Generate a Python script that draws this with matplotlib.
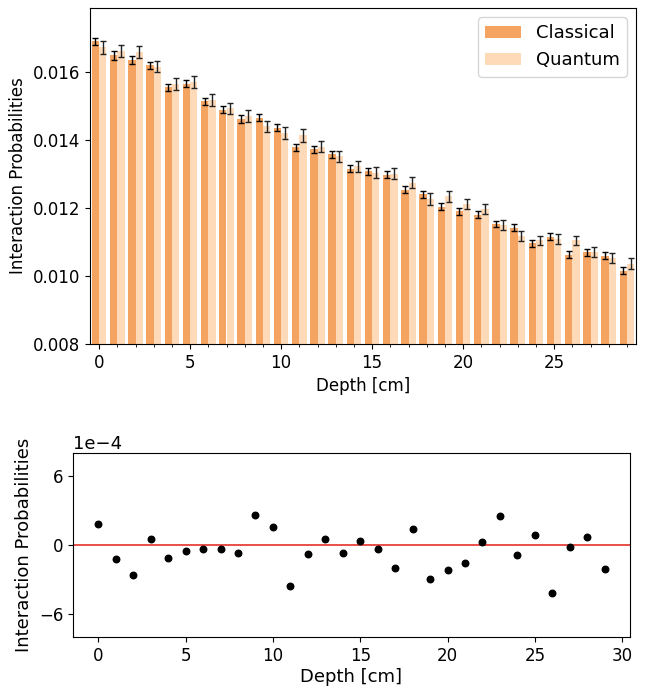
import matplotlib
matplotlib.use("Agg")
import matplotlib.pyplot as plt
import numpy as np
from matplotlib.ticker import MultipleLocator

depth = list(range(30))

classical = [0.016917, 0.016504, 0.016357, 0.016218, 0.015560, 0.015670, 0.015147, 0.014903,
             0.014637, 0.014667, 0.014372, 0.013791, 0.013732, 0.013584, 0.013168, 0.013083,
             0.012985, 0.012552, 0.012413, 0.012050, 0.011912, 0.011814, 0.011528, 0.011430,
             0.010968, 0.011165, 0.010634, 0.010702, 0.010605, 0.010162]
quantum = [0.016737, 0.016626, 0.016615, 0.016169, 0.015655, 0.015719, 0.015185, 0.014941,
           0.014709, 0.014409, 0.014213, 0.014145, 0.013813, 0.013529, 0.013240, 0.013051,
           0.013017, 0.012752, 0.012274, 0.012346, 0.012126, 0.011973, 0.011502, 0.011178,
           0.011055, 0.011090, 0.011054, 0.010716, 0.010533, 0.010371]
classical_err = [1.05e-4, 1.25e-4, 1.15e-4, 1.05e-4, 1.1e-4, 1.05e-4, 1.0e-4, 1.05e-4,
                 1.15e-4, 1.05e-4, 1.1e-4, 1.05e-4, 1.1e-4, 1.15e-4, 1.05e-4, 1.05e-4,
                 1.05e-4, 1.05e-4, 1.0e-4, 0.95e-4, 1.0e-4, 1.0e-4, 0.95e-4, 1.05e-4,
                 1.0e-4, 1.0e-4, 0.95e-4, 1.05e-4, 1.05e-4, 0.95e-4]
quantum_err = [1.8e-4, 1.75e-4, 1.8e-4, 1.55e-4, 1.8e-4, 1.75e-4, 1.85e-4, 1.6e-4,
               1.75e-4, 1.65e-4, 1.75e-4, 1.8e-4, 1.55e-4, 1.7e-4, 1.6e-4, 1.6e-4,
               1.65e-4, 1.65e-4, 1.65e-4, 1.65e-4, 1.55e-4, 1.5e-4, 1.45e-4, 1.45e-4,
               1.3e-4, 1.4e-4, 1.4e-4, 1.4e-4, 1.4e-4, 1.5e-4]
diff_e4 = [1.80, -1.22, -2.58, 0.49, -1.13, -0.49, -0.38, -0.38, -0.72, 2.58,
           1.59, -3.54, -0.81, 0.55, -0.72, 0.32, -0.32, -2.00, 1.39, -2.96,
           -2.14, -1.59, 0.26, 2.52, -0.87, 0.90, -4.20, -0.14, 0.72, -2.09]

plt.rcParams['font.size'] = 12

fig = plt.figure(figsize=(6.47, 6.86), dpi=100)
W, H = 647, 686
ax1 = fig.add_axes([90 / W, (H - 344) / H, 546 / W, 336 / H])
ax2 = fig.add_axes([73 / W, (H - 637) / H, 557 / W, 184 / H])

x = np.array(depth)
w = 0.4
ax1.bar(x - w / 2, classical, width=w, color='#F4A460', label='Classical',
        yerr=classical_err, capsize=2, error_kw=dict(ecolor='black', elinewidth=1, capthick=1))
ax1.bar(x + w / 2, quantum, width=w, color='#FFDAB9', label='Quantum',
        yerr=quantum_err, capsize=2, error_kw=dict(ecolor='#222222', elinewidth=1, capthick=1))
ax1.set_xlim(-0.5, 29.5)
ax1.set_ylim(0.008, 0.0179)
ax1.xaxis.set_major_locator(MultipleLocator(5))
ax1.xaxis.set_minor_locator(MultipleLocator(1))
ax1.set_yticks([0.008, 0.010, 0.012, 0.014, 0.016])
ax1.set_xlabel('Depth [cm]')
ax1.set_ylabel('Interaction Probabilities')
ax1.legend(loc='upper right', fontsize=13)

diff = np.array(diff_e4) * 1e-4
ax2.scatter(x, diff, color='black', s=22, zorder=3)
ax2.axhline(0, color='#e8403a', linewidth=1.3)
ax2.set_ylim(-8e-4, 8e-4)
ax2.set_yticks([-6e-4, 0, 6e-4])
ax2.ticklabel_format(axis='y', style='sci', scilimits=(0, 0))
ax2.yaxis.get_offset_text().set_fontsize(13)
ax2.xaxis.set_major_locator(MultipleLocator(5))
ax2.set_xlabel('Depth [cm]', fontsize=13, labelpad=2)
ax2.set_ylabel('Interaction Probabilities', fontsize=13)

fig.savefig('out.png', dpi=100)
